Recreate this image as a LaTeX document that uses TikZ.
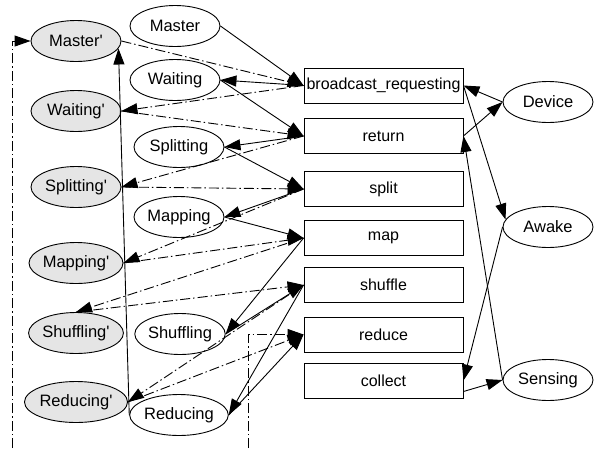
\documentclass[tikz,border=0pt]{standalone}
\usepackage{fontspec}
\setmainfont{Liberation Sans}
\usetikzlibrary{arrows.meta,shapes.geometric}
\newcommand\prm{\textquotesingle}
\begin{document}
\begin{tikzpicture}[x=1pt,y=-1pt,
  font=\fontsize{16}{18}\selectfont,
  every path/.style={line width=0.9pt},
  state/.style={draw, ellipse, minimum width=90pt, minimum height=41pt, inner sep=0pt, font=\fontsize{16.5}{18}\selectfont},
  shadow/.style={state, fill=black!10},
  task/.style={draw, rectangle, minimum width=159pt, minimum height=35pt, inner sep=0pt},
  flow/.style={-{Triangle[length=16pt,width=11pt]}},
  ctrl/.style={flow, dash pattern=on 10pt off 3pt on 1.5pt off 3pt}]
\useasboundingbox (0,0) rectangle (595,448);

% primed (gray) states
\node[shadow] (MasterP)    at (76,41)  {Master\prm};
\node[shadow] (WaitingP)   at (76,111) {Waiting\prm};
\node[shadow] (SplittingP) at (76,187) {Splitting\prm};
\node[shadow] (MappingP)   at (76,263) {Mapping\prm};
\node[shadow] (ShufflingP) at (76,333) {Shuffling\prm};
\node[shadow] (ReducingP)  at (76,402) {Reducing\prm};

% states
\node[state] (Master)    at (175,26)  {Master};
\node[state] (Waiting)   at (175,80)  {Waiting};
\node[state] (Splitting) at (179,147) {Splitting};
\node[state] (Mapping)   at (179,217) {Mapping};
\node[state] (Shuffling) at (180,334) {Shuffling};
\node[state] (Reducing)  at (179,415) {Reducing};

% tasks
\node[task] (brq)     at (383.5,85.5)  {broadcast\_requesting};
\node[task] (ret)     at (383.5,136)   {return};
\node[task] (split)   at (383.5,189)   {split};
\node[task] (map)     at (383.5,238)   {map};
\node[task] (shuffle) at (383.5,285)   {shuffle};
\node[task] (reduce)  at (383.5,334.5) {reduce};
\node[task] (collect) at (383.5,380.5) {collect};

% device states
\node[state] (Device)  at (548,102) {Device};
\node[state] (Awake)   at (548,227) {Awake};
\node[state] (Sensing) at (548,380) {Sensing};

\coordinate (loopL) at (12,448);
\coordinate (loopR) at (248,448);

% solid transitions
\draw[flow] (Master.east) -- (brq.west);
\draw[flow] (brq.west) -- (Waiting.east);
\draw[flow] (Waiting.east) -- (ret.west);
\draw[flow] (ret.west) -- (Splitting.east);
\draw[flow] (Splitting.east) -- (split.west);
\draw[flow] (split.west) -- (Mapping.east);
\draw[flow] (Mapping.east) -- (map.west);
\draw[flow] (map.west) -- (Shuffling.east);
\draw[flow] (Shuffling.east) -- (shuffle.west);
\draw[flow] (shuffle.west) -- (Reducing.east);
\draw[flow] (Reducing.east) -- (reduce.west);
\draw[flow] (Reducing.west) -- (MasterP.-10);

\draw[flow] (Device.west) -- (brq.east);
\draw[flow] (brq.east) -- (Awake.170);
\draw[flow] (ret.east) -- (Device.west);
\draw[flow] (Awake.west) -- (collect.east);
\draw[flow] (Sensing.west) -- (ret.east);
\draw[flow] ([yshift=-11pt]collect.east) -- (Sensing.west);

% dash-dot transitions
\draw[ctrl] (MasterP.east) -- (brq.west);
\draw[ctrl] (brq.west) -- (WaitingP.east);
\draw[ctrl] (WaitingP.east) -- (ret.west);
\draw[ctrl] (ret.west) -- (SplittingP.east);
\draw[ctrl] (SplittingP.east) -- (split.west);
\draw[ctrl] (split.west) -- (MappingP.east);
\draw[ctrl] (MappingP.east) -- (map.west);
\draw[ctrl] (map.west) -- (ShufflingP.north);
\draw[ctrl] (ShufflingP.north) -- (shuffle.west);
\draw[ctrl] (shuffle.west) -- (ReducingP.east);
\draw[ctrl] (ReducingP.east) -- (reduce.west);
\draw[ctrl] (loopR) |- (reduce.west);
\draw[ctrl] (loopL) |- (MasterP.west);
\end{tikzpicture}
\end{document}
